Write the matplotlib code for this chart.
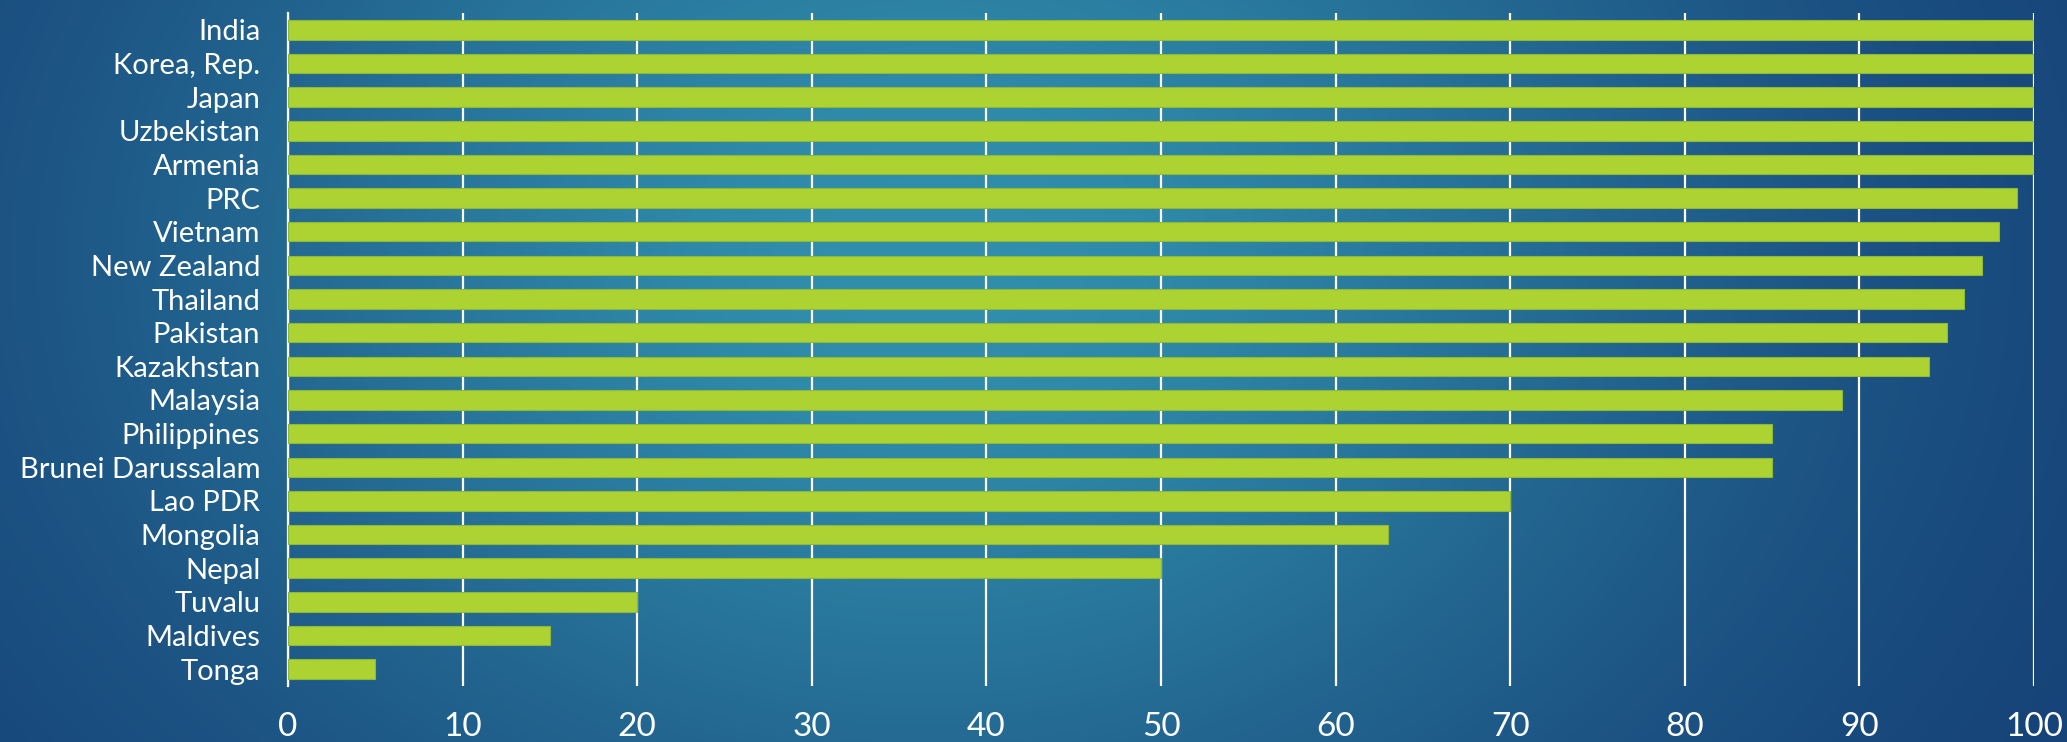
import numpy as np
import matplotlib
matplotlib.use("Agg")
import matplotlib.pyplot as plt
from matplotlib.colors import to_rgb

countries = ["India", "Korea, Rep.", "Japan", "Uzbekistan", "Armenia", "PRC",
             "Vietnam", "New Zealand", "Thailand", "Pakistan", "Kazakhstan",
             "Malaysia", "Philippines", "Brunei Darussalam", "Lao PDR",
             "Mongolia", "Nepal", "Tuvalu", "Maldives", "Tonga"]
values = [100, 100, 100, 100, 100, 99, 98, 97, 96, 95, 94,
          89, 85, 85, 70, 63, 50, 20, 15, 5]
x_ticks = [0, 10, 20, 30, 40, 50, 60, 70, 80, 90, 100]

plt.rcParams['font.family'] = ['Lato', 'DejaVu Sans']

fig = plt.figure(figsize=(20.67, 7.42), dpi=100)

# background gradient (dark navy edges, teal centre)
bg = fig.add_axes([0, 0, 1, 1], zorder=0)
h, w = 300, 800
yy, xx = np.mgrid[0:1:h * 1j, 0:1:w * 1j]
weight = np.exp(-(((xx - 0.45) / 0.40) ** 2 + ((yy - 0.35) / 0.85) ** 2))
dark = np.array(to_rgb("#143c74"))
light = np.array(to_rgb("#318fac"))
img = dark + (light - dark) * weight[..., None]
bg.imshow(img, aspect="auto", extent=[0, 1, 0, 1], origin="upper")
bg.axis("off")

ax = fig.add_axes([288 / 2067, 1 - 686 / 742, (2034 - 288) / 2067, (686 - 13) / 742], zorder=1)
ax.patch.set_alpha(0)

ypos = np.arange(len(countries))
ax.barh(ypos, values, height=0.58, color="#acd332", edgecolor="#8fb83a",
        linewidth=0.8, zorder=3)

ax.set_xlim(0, 100)
ax.set_ylim(len(countries) - 0.5, -0.5)
ax.set_xticks(x_ticks)
ax.set_yticks(ypos)
ax.set_yticklabels(countries)
ax.grid(axis="x", color="white", linewidth=1.6, zorder=1)
ax.set_axisbelow(True)

for s in ["top", "right", "bottom"]:
    ax.spines[s].set_visible(False)
ax.spines["left"].set_color("white")
ax.spines["left"].set_linewidth(1.6)

ax.tick_params(axis="x", length=0, pad=19, labelsize=24, labelcolor="white")
ax.tick_params(axis="y", length=0, pad=20, labelsize=21, labelcolor="white")

fig.savefig("out.png", dpi=100)
